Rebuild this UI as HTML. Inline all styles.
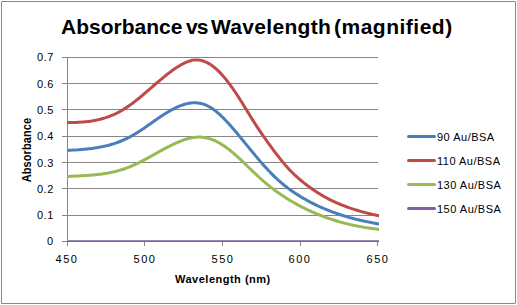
<!DOCTYPE html>
<html><head><meta charset="utf-8"><style>
html,body{margin:0;padding:0;background:#fff;width:517px;height:305px;overflow:hidden}
body{position:relative;font-family:"Liberation Sans",sans-serif;color:#000}
.frame{position:absolute;left:1px;top:1px;width:513px;height:301px;border:1px solid #868686;border-radius:1px}
.t{position:absolute;white-space:nowrap;line-height:12px}
.yl{right:462px;text-align:right}
.xl{width:40px;text-align:center}
svg{position:absolute;left:0;top:0}
</style></head><body>
<div class="frame"></div>
<svg width="517" height="305" viewBox="0 0 517 305">
<defs><clipPath id="pa"><rect x="67" y="50" width="312" height="192"/></clipPath></defs>
<rect x="62" y="57" width="316" height="1" fill="#868686"/>
<rect x="62" y="83" width="316" height="1" fill="#868686"/>
<rect x="62" y="109" width="316" height="1" fill="#868686"/>
<rect x="62" y="136" width="316" height="1" fill="#868686"/>
<rect x="62" y="162" width="316" height="1" fill="#868686"/>
<rect x="62" y="188" width="316" height="1" fill="#868686"/>
<rect x="62" y="215" width="316" height="1" fill="#868686"/>
<rect x="62" y="241" width="316" height="1" fill="#868686"/>
<rect x="67" y="57" width="1" height="189" fill="#868686"/>
<rect x="144" y="242" width="1" height="4" fill="#868686"/>
<rect x="222" y="242" width="1" height="4" fill="#868686"/>
<rect x="300" y="242" width="1" height="4" fill="#868686"/>
<rect x="377" y="242" width="1" height="4" fill="#868686"/>
<path d="M66.0,176.6 C66.2,176.6 67.0,176.5 67.5,176.5 C68.0,176.5 68.5,176.4 69.0,176.4 C69.5,176.4 70.0,176.4 70.5,176.3 C71.0,176.3 71.5,176.3 72.0,176.3 C72.5,176.2 73.0,176.2 73.5,176.2 C74.0,176.2 74.5,176.1 75.0,176.1 C75.5,176.1 76.0,176.1 76.5,176.0 C77.0,176.0 77.5,176.0 78.0,176.0 C78.5,175.9 79.0,175.9 79.5,175.9 C80.0,175.9 80.5,175.8 81.0,175.8 C81.5,175.8 82.0,175.7 82.5,175.7 C83.0,175.7 83.5,175.7 84.0,175.6 C84.5,175.6 85.0,175.6 85.5,175.5 C86.0,175.5 86.5,175.5 87.0,175.4 C87.5,175.4 88.0,175.4 88.5,175.3 C89.0,175.3 89.5,175.3 90.0,175.2 C90.5,175.2 91.0,175.1 91.5,175.1 C92.0,175.1 92.5,175.0 93.0,175.0 C93.5,174.9 94.0,174.9 94.5,174.8 C95.0,174.8 95.5,174.7 96.0,174.7 C96.5,174.6 97.0,174.6 97.5,174.5 C98.0,174.5 98.5,174.4 99.0,174.3 C99.5,174.3 100.0,174.2 100.5,174.2 C101.0,174.1 101.5,174.0 102.0,174.0 C102.5,173.9 103.0,173.8 103.5,173.7 C104.0,173.7 104.5,173.6 105.0,173.5 C105.5,173.4 106.0,173.4 106.5,173.3 C107.0,173.2 107.5,173.1 108.0,173.0 C108.5,172.9 109.0,172.8 109.5,172.7 C110.0,172.6 110.5,172.5 111.0,172.4 C111.5,172.3 112.0,172.2 112.5,172.1 C113.0,172.0 113.5,171.9 114.0,171.8 C114.5,171.7 115.0,171.5 115.5,171.4 C116.0,171.3 116.5,171.2 117.0,171.0 C117.5,170.9 118.0,170.8 118.5,170.6 C119.0,170.5 119.5,170.3 120.0,170.2 C120.5,170.1 121.0,169.9 121.5,169.7 C122.0,169.6 122.5,169.4 123.0,169.3 C123.5,169.1 124.0,168.9 124.5,168.8 C125.0,168.6 125.5,168.4 126.0,168.2 C126.5,168.1 127.0,167.9 127.5,167.7 C128.0,167.5 128.5,167.3 129.0,167.1 C129.5,166.9 130.0,166.7 130.5,166.5 C131.0,166.3 131.5,166.1 132.0,165.9 C132.5,165.6 133.0,165.4 133.5,165.2 C134.0,165.0 134.5,164.7 135.0,164.5 C135.5,164.3 136.0,164.0 136.5,163.8 C137.0,163.6 137.5,163.3 138.0,163.1 C138.5,162.8 139.0,162.6 139.5,162.3 C140.0,162.1 140.5,161.8 141.0,161.6 C141.5,161.3 142.0,161.1 142.5,160.8 C143.0,160.5 143.5,160.3 144.0,160.0 C144.5,159.7 145.0,159.5 145.5,159.2 C146.0,158.9 146.5,158.7 147.0,158.4 C147.5,158.1 148.0,157.9 148.5,157.6 C149.0,157.3 149.5,157.0 150.0,156.8 C150.5,156.5 151.0,156.2 151.5,155.9 C152.0,155.6 152.5,155.4 153.0,155.1 C153.5,154.8 154.0,154.5 154.5,154.3 C155.0,154.0 155.5,153.7 156.0,153.4 C156.5,153.1 157.0,152.9 157.5,152.6 C158.0,152.3 158.5,152.0 159.0,151.8 C159.5,151.5 160.0,151.2 160.5,150.9 C161.0,150.7 161.5,150.4 162.0,150.1 C162.5,149.8 163.0,149.6 163.5,149.3 C164.0,149.0 164.5,148.8 165.0,148.5 C165.5,148.2 166.0,148.0 166.5,147.7 C167.0,147.4 167.5,147.2 168.0,146.9 C168.5,146.7 169.0,146.4 169.5,146.2 C170.0,145.9 170.5,145.7 171.0,145.4 C171.5,145.2 172.0,144.9 172.5,144.7 C173.0,144.4 173.5,144.2 174.0,144.0 C174.5,143.7 175.0,143.5 175.5,143.3 C176.0,143.1 176.5,142.8 177.0,142.6 C177.5,142.4 178.0,142.2 178.5,142.0 C179.0,141.8 179.5,141.6 180.0,141.4 C180.5,141.2 181.0,141.0 181.5,140.8 C182.0,140.6 182.5,140.4 183.0,140.2 C183.5,140.1 184.0,139.9 184.5,139.7 C185.0,139.6 185.5,139.4 186.0,139.2 C186.5,139.1 187.0,138.9 187.5,138.8 C188.0,138.7 188.5,138.5 189.0,138.4 C189.5,138.3 190.0,138.2 190.5,138.1 C191.0,138.0 191.5,137.9 192.0,137.8 C192.5,137.7 193.0,137.6 193.5,137.5 C194.0,137.4 194.5,137.4 195.0,137.3 C195.5,137.3 196.0,137.2 196.5,137.2 C197.0,137.2 197.5,137.1 198.0,137.1 C198.5,137.1 199.0,137.1 199.5,137.1 C200.0,137.1 200.5,137.1 201.0,137.1 C201.5,137.2 202.0,137.2 202.5,137.2 C203.0,137.3 203.5,137.4 204.0,137.4 C204.5,137.5 205.0,137.6 205.5,137.7 C206.0,137.8 206.5,137.9 207.0,138.0 C207.5,138.1 208.0,138.2 208.5,138.4 C209.0,138.5 209.5,138.7 210.0,138.8 C210.5,139.0 211.0,139.2 211.5,139.3 C212.0,139.5 212.5,139.7 213.0,139.9 C213.5,140.1 214.0,140.3 214.5,140.5 C215.0,140.8 215.5,141.0 216.0,141.2 C216.5,141.5 217.0,141.7 217.5,142.0 C218.0,142.3 218.5,142.5 219.0,142.8 C219.5,143.1 220.0,143.4 220.5,143.7 C221.0,144.0 221.5,144.3 222.0,144.6 C222.5,144.9 223.0,145.2 223.5,145.6 C224.0,145.9 224.5,146.2 225.0,146.6 C225.5,146.9 226.0,147.3 226.5,147.6 C227.0,148.0 227.5,148.4 228.0,148.8 C228.5,149.1 229.0,149.5 229.5,149.9 C230.0,150.3 230.5,150.7 231.0,151.1 C231.5,151.5 232.0,151.9 232.5,152.4 C233.0,152.8 233.5,153.2 234.0,153.6 C234.5,154.1 235.0,154.5 235.5,154.9 C236.0,155.4 236.5,155.8 237.0,156.3 C237.5,156.7 238.0,157.2 238.5,157.7 C239.0,158.1 239.5,158.6 240.0,159.1 C240.5,159.5 241.0,160.0 241.5,160.5 C242.0,160.9 242.5,161.4 243.0,161.9 C243.5,162.4 244.0,162.8 244.5,163.3 C245.0,163.8 245.5,164.3 246.0,164.8 C246.5,165.3 247.0,165.7 247.5,166.2 C248.0,166.7 248.5,167.2 249.0,167.7 C249.5,168.2 250.0,168.7 250.5,169.2 C251.0,169.6 251.5,170.1 252.0,170.6 C252.5,171.1 253.0,171.6 253.5,172.0 C254.0,172.5 254.5,173.0 255.0,173.5 C255.5,174.0 256.0,174.4 256.5,174.9 C257.0,175.4 257.5,175.8 258.0,176.3 C258.5,176.8 259.0,177.2 259.5,177.7 C260.0,178.1 260.5,178.6 261.0,179.0 C261.5,179.5 262.0,179.9 262.5,180.4 C263.0,180.8 263.5,181.2 264.0,181.7 C264.5,182.1 265.0,182.5 265.5,182.9 C266.0,183.3 266.5,183.8 267.0,184.2 C267.5,184.6 268.0,185.0 268.5,185.4 C269.0,185.8 269.5,186.2 270.0,186.6 C270.5,187.0 271.0,187.4 271.5,187.8 C272.0,188.1 272.5,188.5 273.0,188.9 C273.5,189.3 274.0,189.7 274.5,190.0 C275.0,190.4 275.5,190.8 276.0,191.1 C276.5,191.5 277.0,191.8 277.5,192.2 C278.0,192.6 278.5,192.9 279.0,193.3 C279.5,193.6 280.0,193.9 280.5,194.3 C281.0,194.6 281.5,195.0 282.0,195.3 C282.5,195.6 283.0,196.0 283.5,196.3 C284.0,196.6 284.5,196.9 285.0,197.3 C285.5,197.6 286.0,197.9 286.5,198.2 C287.0,198.5 287.5,198.8 288.0,199.1 C288.5,199.5 289.0,199.8 289.5,200.1 C290.0,200.4 290.5,200.7 291.0,201.0 C291.5,201.3 292.0,201.6 292.5,201.8 C293.0,202.1 293.5,202.4 294.0,202.7 C294.5,203.0 295.0,203.3 295.5,203.6 C296.0,203.8 296.5,204.1 297.0,204.4 C297.5,204.7 298.0,204.9 298.5,205.2 C299.0,205.5 299.5,205.7 300.0,206.0 C300.5,206.3 301.0,206.5 301.5,206.8 C302.0,207.0 302.5,207.3 303.0,207.6 C303.5,207.8 304.0,208.1 304.5,208.3 C305.0,208.6 305.5,208.8 306.0,209.0 C306.5,209.3 307.0,209.5 307.5,209.8 C308.0,210.0 308.5,210.2 309.0,210.5 C309.5,210.7 310.0,210.9 310.5,211.2 C311.0,211.4 311.5,211.6 312.0,211.8 C312.5,212.1 313.0,212.3 313.5,212.5 C314.0,212.7 314.5,212.9 315.0,213.1 C315.5,213.4 316.0,213.6 316.5,213.8 C317.0,214.0 317.5,214.2 318.0,214.4 C318.5,214.6 319.0,214.8 319.5,215.0 C320.0,215.2 320.5,215.4 321.0,215.6 C321.5,215.8 322.0,216.0 322.5,216.2 C323.0,216.4 323.5,216.5 324.0,216.7 C324.5,216.9 325.0,217.1 325.5,217.3 C326.0,217.5 326.5,217.6 327.0,217.8 C327.5,218.0 328.0,218.2 328.5,218.3 C329.0,218.5 329.5,218.7 330.0,218.8 C330.5,219.0 331.0,219.2 331.5,219.3 C332.0,219.5 332.5,219.7 333.0,219.8 C333.5,220.0 334.0,220.1 334.5,220.3 C335.0,220.4 335.5,220.6 336.0,220.8 C336.5,220.9 337.0,221.1 337.5,221.2 C338.0,221.3 338.5,221.5 339.0,221.6 C339.5,221.8 340.0,221.9 340.5,222.1 C341.0,222.2 341.5,222.3 342.0,222.5 C342.5,222.6 343.0,222.7 343.5,222.9 C344.0,223.0 344.5,223.1 345.0,223.3 C345.5,223.4 346.0,223.5 346.5,223.6 C347.0,223.8 347.5,223.9 348.0,224.0 C348.5,224.1 349.0,224.2 349.5,224.4 C350.0,224.5 350.5,224.6 351.0,224.7 C351.5,224.8 352.0,224.9 352.5,225.0 C353.0,225.2 353.5,225.3 354.0,225.4 C354.5,225.5 355.0,225.6 355.5,225.7 C356.0,225.8 356.5,225.9 357.0,226.0 C357.5,226.1 358.0,226.2 358.5,226.3 C359.0,226.4 359.5,226.5 360.0,226.6 C360.5,226.7 361.0,226.7 361.5,226.8 C362.0,226.9 362.5,227.0 363.0,227.1 C363.5,227.2 364.0,227.3 364.5,227.4 C365.0,227.4 365.5,227.5 366.0,227.6 C366.5,227.7 367.0,227.8 367.5,227.8 C368.0,227.9 368.5,228.0 369.0,228.1 C369.5,228.1 370.0,228.2 370.5,228.3 C371.0,228.4 371.5,228.4 372.0,228.5 C372.5,228.6 373.0,228.6 373.5,228.7 C374.0,228.8 374.5,228.8 375.0,228.9 C375.5,229.0 375.8,229.0 376.5,229.1 C377.2,229.2 379.0,229.4 379.5,229.4" fill="none" stroke="#98B954" stroke-width="3.0" stroke-linecap="butt" stroke-linejoin="round" clip-path="url(#pa)"/>
<path d="M66.0,150.4 C66.2,150.4 67.0,150.4 67.5,150.4 C68.0,150.3 68.5,150.3 69.0,150.3 C69.5,150.3 70.0,150.2 70.5,150.2 C71.0,150.2 71.5,150.2 72.0,150.1 C72.5,150.1 73.0,150.1 73.5,150.1 C74.0,150.0 74.5,150.0 75.0,150.0 C75.5,149.9 76.0,149.9 76.5,149.9 C77.0,149.8 77.5,149.8 78.0,149.8 C78.5,149.7 79.0,149.7 79.5,149.7 C80.0,149.6 80.5,149.6 81.0,149.6 C81.5,149.5 82.0,149.5 82.5,149.4 C83.0,149.4 83.5,149.3 84.0,149.3 C84.5,149.3 85.0,149.2 85.5,149.2 C86.0,149.1 86.5,149.1 87.0,149.0 C87.5,149.0 88.0,148.9 88.5,148.8 C89.0,148.8 89.5,148.7 90.0,148.7 C90.5,148.6 91.0,148.5 91.5,148.5 C92.0,148.4 92.5,148.4 93.0,148.3 C93.5,148.2 94.0,148.1 94.5,148.1 C95.0,148.0 95.5,147.9 96.0,147.8 C96.5,147.8 97.0,147.7 97.5,147.6 C98.0,147.5 98.5,147.4 99.0,147.3 C99.5,147.2 100.0,147.1 100.5,147.0 C101.0,147.0 101.5,146.9 102.0,146.7 C102.5,146.6 103.0,146.5 103.5,146.4 C104.0,146.3 104.5,146.2 105.0,146.1 C105.5,146.0 106.0,145.9 106.5,145.7 C107.0,145.6 107.5,145.5 108.0,145.4 C108.5,145.2 109.0,145.1 109.5,145.0 C110.0,144.8 110.5,144.7 111.0,144.5 C111.5,144.4 112.0,144.2 112.5,144.1 C113.0,143.9 113.5,143.8 114.0,143.6 C114.5,143.4 115.0,143.3 115.5,143.1 C116.0,142.9 116.5,142.8 117.0,142.6 C117.5,142.4 118.0,142.2 118.5,142.0 C119.0,141.8 119.5,141.7 120.0,141.5 C120.5,141.3 121.0,141.1 121.5,140.8 C122.0,140.6 122.5,140.4 123.0,140.2 C123.5,140.0 124.0,139.8 124.5,139.5 C125.0,139.3 125.5,139.1 126.0,138.8 C126.5,138.6 127.0,138.4 127.5,138.1 C128.0,137.9 128.5,137.6 129.0,137.4 C129.5,137.1 130.0,136.8 130.5,136.6 C131.0,136.3 131.5,136.0 132.0,135.7 C132.5,135.5 133.0,135.2 133.5,134.9 C134.0,134.6 134.5,134.3 135.0,134.0 C135.5,133.7 136.0,133.4 136.5,133.1 C137.0,132.8 137.5,132.5 138.0,132.1 C138.5,131.8 139.0,131.5 139.5,131.2 C140.0,130.8 140.5,130.5 141.0,130.2 C141.5,129.9 142.0,129.5 142.5,129.2 C143.0,128.9 143.5,128.5 144.0,128.2 C144.5,127.8 145.0,127.5 145.5,127.1 C146.0,126.8 146.5,126.5 147.0,126.1 C147.5,125.8 148.0,125.4 148.5,125.1 C149.0,124.7 149.5,124.4 150.0,124.0 C150.5,123.7 151.0,123.3 151.5,123.0 C152.0,122.6 152.5,122.3 153.0,121.9 C153.5,121.6 154.0,121.2 154.5,120.9 C155.0,120.5 155.5,120.2 156.0,119.8 C156.5,119.5 157.0,119.1 157.5,118.8 C158.0,118.5 158.5,118.1 159.0,117.8 C159.5,117.4 160.0,117.1 160.5,116.8 C161.0,116.4 161.5,116.1 162.0,115.8 C162.5,115.4 163.0,115.1 163.5,114.8 C164.0,114.5 164.5,114.1 165.0,113.8 C165.5,113.5 166.0,113.2 166.5,112.9 C167.0,112.6 167.5,112.3 168.0,112.0 C168.5,111.7 169.0,111.4 169.5,111.1 C170.0,110.8 170.5,110.5 171.0,110.2 C171.5,110.0 172.0,109.7 172.5,109.4 C173.0,109.2 173.5,108.9 174.0,108.6 C174.5,108.4 175.0,108.1 175.5,107.9 C176.0,107.6 176.5,107.4 177.0,107.2 C177.5,106.9 178.0,106.7 178.5,106.5 C179.0,106.3 179.5,106.1 180.0,105.9 C180.5,105.7 181.0,105.5 181.5,105.3 C182.0,105.1 182.5,105.0 183.0,104.8 C183.5,104.6 184.0,104.5 184.5,104.3 C185.0,104.2 185.5,104.0 186.0,103.9 C186.5,103.8 187.0,103.7 187.5,103.6 C188.0,103.5 188.5,103.4 189.0,103.3 C189.5,103.2 190.0,103.1 190.5,103.0 C191.0,103.0 191.5,102.9 192.0,102.9 C192.5,102.8 193.0,102.8 193.5,102.8 C194.0,102.8 194.5,102.8 195.0,102.8 C195.5,102.8 196.0,102.8 196.5,102.8 C197.0,102.9 197.5,102.9 198.0,103.0 C198.5,103.0 199.0,103.1 199.5,103.2 C200.0,103.3 200.5,103.4 201.0,103.5 C201.5,103.6 202.0,103.7 202.5,103.9 C203.0,104.0 203.5,104.2 204.0,104.3 C204.5,104.5 205.0,104.7 205.5,104.9 C206.0,105.1 206.5,105.3 207.0,105.6 C207.5,105.8 208.0,106.0 208.5,106.3 C209.0,106.6 209.5,106.9 210.0,107.2 C210.5,107.4 211.0,107.8 211.5,108.1 C212.0,108.4 212.5,108.7 213.0,109.1 C213.5,109.4 214.0,109.8 214.5,110.2 C215.0,110.6 215.5,110.9 216.0,111.3 C216.5,111.7 217.0,112.2 217.5,112.6 C218.0,113.0 218.5,113.4 219.0,113.9 C219.5,114.3 220.0,114.8 220.5,115.2 C221.0,115.7 221.5,116.2 222.0,116.7 C222.5,117.2 223.0,117.6 223.5,118.1 C224.0,118.6 224.5,119.2 225.0,119.7 C225.5,120.2 226.0,120.7 226.5,121.3 C227.0,121.8 227.5,122.3 228.0,122.9 C228.5,123.4 229.0,124.0 229.5,124.5 C230.0,125.1 230.5,125.6 231.0,126.2 C231.5,126.8 232.0,127.4 232.5,127.9 C233.0,128.5 233.5,129.1 234.0,129.7 C234.5,130.3 235.0,130.9 235.5,131.5 C236.0,132.1 236.5,132.6 237.0,133.2 C237.5,133.8 238.0,134.4 238.5,135.1 C239.0,135.7 239.5,136.3 240.0,136.9 C240.5,137.5 241.0,138.1 241.5,138.7 C242.0,139.3 242.5,139.9 243.0,140.5 C243.5,141.1 244.0,141.7 244.5,142.4 C245.0,143.0 245.5,143.6 246.0,144.2 C246.5,144.8 247.0,145.4 247.5,146.0 C248.0,146.6 248.5,147.2 249.0,147.8 C249.5,148.5 250.0,149.1 250.5,149.7 C251.0,150.3 251.5,150.9 252.0,151.5 C252.5,152.1 253.0,152.7 253.5,153.3 C254.0,153.9 254.5,154.5 255.0,155.1 C255.5,155.7 256.0,156.3 256.5,156.9 C257.0,157.5 257.5,158.1 258.0,158.7 C258.5,159.2 259.0,159.8 259.5,160.4 C260.0,161.0 260.5,161.6 261.0,162.2 C261.5,162.7 262.0,163.3 262.5,163.9 C263.0,164.4 263.5,165.0 264.0,165.6 C264.5,166.1 265.0,166.7 265.5,167.2 C266.0,167.8 266.5,168.3 267.0,168.9 C267.5,169.4 268.0,170.0 268.5,170.5 C269.0,171.0 269.5,171.5 270.0,172.1 C270.5,172.6 271.0,173.1 271.5,173.6 C272.0,174.1 272.5,174.6 273.0,175.1 C273.5,175.6 274.0,176.1 274.5,176.6 C275.0,177.1 275.5,177.6 276.0,178.0 C276.5,178.5 277.0,179.0 277.5,179.4 C278.0,179.9 278.5,180.3 279.0,180.8 C279.5,181.2 280.0,181.7 280.5,182.1 C281.0,182.5 281.5,183.0 282.0,183.4 C282.5,183.8 283.0,184.2 283.5,184.6 C284.0,185.1 284.5,185.5 285.0,185.9 C285.5,186.3 286.0,186.6 286.5,187.0 C287.0,187.4 287.5,187.8 288.0,188.2 C288.5,188.5 289.0,188.9 289.5,189.3 C290.0,189.7 290.5,190.0 291.0,190.4 C291.5,190.7 292.0,191.1 292.5,191.4 C293.0,191.8 293.5,192.1 294.0,192.4 C294.5,192.8 295.0,193.1 295.5,193.4 C296.0,193.8 296.5,194.1 297.0,194.4 C297.5,194.7 298.0,195.0 298.5,195.4 C299.0,195.7 299.5,196.0 300.0,196.3 C300.5,196.6 301.0,196.9 301.5,197.2 C302.0,197.5 302.5,197.8 303.0,198.1 C303.5,198.4 304.0,198.6 304.5,198.9 C305.0,199.2 305.5,199.5 306.0,199.8 C306.5,200.1 307.0,200.3 307.5,200.6 C308.0,200.9 308.5,201.1 309.0,201.4 C309.5,201.7 310.0,201.9 310.5,202.2 C311.0,202.5 311.5,202.7 312.0,203.0 C312.5,203.2 313.0,203.5 313.5,203.7 C314.0,204.0 314.5,204.2 315.0,204.5 C315.5,204.7 316.0,205.0 316.5,205.2 C317.0,205.4 317.5,205.7 318.0,205.9 C318.5,206.1 319.0,206.4 319.5,206.6 C320.0,206.8 320.5,207.0 321.0,207.3 C321.5,207.5 322.0,207.7 322.5,207.9 C323.0,208.1 323.5,208.4 324.0,208.6 C324.5,208.8 325.0,209.0 325.5,209.2 C326.0,209.4 326.5,209.6 327.0,209.8 C327.5,210.0 328.0,210.2 328.5,210.4 C329.0,210.6 329.5,210.8 330.0,211.0 C330.5,211.2 331.0,211.4 331.5,211.6 C332.0,211.8 332.5,212.0 333.0,212.2 C333.5,212.3 334.0,212.5 334.5,212.7 C335.0,212.9 335.5,213.1 336.0,213.2 C336.5,213.4 337.0,213.6 337.5,213.8 C338.0,213.9 338.5,214.1 339.0,214.3 C339.5,214.4 340.0,214.6 340.5,214.8 C341.0,214.9 341.5,215.1 342.0,215.2 C342.5,215.4 343.0,215.6 343.5,215.7 C344.0,215.9 344.5,216.0 345.0,216.2 C345.5,216.3 346.0,216.5 346.5,216.6 C347.0,216.8 347.5,216.9 348.0,217.1 C348.5,217.2 349.0,217.3 349.5,217.5 C350.0,217.6 350.5,217.8 351.0,217.9 C351.5,218.0 352.0,218.2 352.5,218.3 C353.0,218.4 353.5,218.6 354.0,218.7 C354.5,218.8 355.0,219.0 355.5,219.1 C356.0,219.2 356.5,219.3 357.0,219.5 C357.5,219.6 358.0,219.7 358.5,219.8 C359.0,219.9 359.5,220.1 360.0,220.2 C360.5,220.3 361.0,220.4 361.5,220.5 C362.0,220.6 362.5,220.8 363.0,220.9 C363.5,221.0 364.0,221.1 364.5,221.2 C365.0,221.3 365.5,221.4 366.0,221.5 C366.5,221.6 367.0,221.7 367.5,221.8 C368.0,221.9 368.5,222.0 369.0,222.1 C369.5,222.2 370.0,222.3 370.5,222.4 C371.0,222.5 371.5,222.6 372.0,222.7 C372.5,222.8 373.0,222.9 373.5,223.0 C374.0,223.1 374.5,223.2 375.0,223.3 C375.5,223.4 375.8,223.4 376.5,223.5 C377.2,223.7 379.0,224.0 379.5,224.1" fill="none" stroke="#4A7EBB" stroke-width="3.0" stroke-linecap="butt" stroke-linejoin="round" clip-path="url(#pa)"/>
<path d="M66.0,122.5 C66.2,122.5 67.0,122.5 67.5,122.5 C68.0,122.5 68.5,122.5 69.0,122.5 C69.5,122.5 70.0,122.5 70.5,122.5 C71.0,122.5 71.5,122.5 72.0,122.5 C72.5,122.5 73.0,122.5 73.5,122.5 C74.0,122.5 74.5,122.4 75.0,122.4 C75.5,122.4 76.0,122.4 76.5,122.4 C77.0,122.4 77.5,122.3 78.0,122.3 C78.5,122.3 79.0,122.3 79.5,122.2 C80.0,122.2 80.5,122.2 81.0,122.1 C81.5,122.1 82.0,122.1 82.5,122.0 C83.0,122.0 83.5,122.0 84.0,121.9 C84.5,121.9 85.0,121.8 85.5,121.8 C86.0,121.7 86.5,121.7 87.0,121.6 C87.5,121.5 88.0,121.5 88.5,121.4 C89.0,121.4 89.5,121.3 90.0,121.2 C90.5,121.2 91.0,121.1 91.5,121.0 C92.0,120.9 92.5,120.8 93.0,120.8 C93.5,120.7 94.0,120.6 94.5,120.5 C95.0,120.4 95.5,120.3 96.0,120.2 C96.5,120.1 97.0,120.0 97.5,119.9 C98.0,119.8 98.5,119.6 99.0,119.5 C99.5,119.4 100.0,119.3 100.5,119.2 C101.0,119.0 101.5,118.9 102.0,118.8 C102.5,118.6 103.0,118.5 103.5,118.3 C104.0,118.2 104.5,118.0 105.0,117.9 C105.5,117.7 106.0,117.6 106.5,117.4 C107.0,117.2 107.5,117.0 108.0,116.9 C108.5,116.7 109.0,116.5 109.5,116.3 C110.0,116.1 110.5,115.9 111.0,115.7 C111.5,115.5 112.0,115.3 112.5,115.1 C113.0,114.9 113.5,114.7 114.0,114.5 C114.5,114.2 115.0,114.0 115.5,113.8 C116.0,113.5 116.5,113.3 117.0,113.0 C117.5,112.8 118.0,112.5 118.5,112.3 C119.0,112.0 119.5,111.8 120.0,111.5 C120.5,111.2 121.0,110.9 121.5,110.6 C122.0,110.3 122.5,110.1 123.0,109.8 C123.5,109.5 124.0,109.1 124.5,108.8 C125.0,108.5 125.5,108.2 126.0,107.9 C126.5,107.5 127.0,107.2 127.5,106.9 C128.0,106.5 128.5,106.2 129.0,105.8 C129.5,105.5 130.0,105.1 130.5,104.8 C131.0,104.4 131.5,104.0 132.0,103.7 C132.5,103.3 133.0,102.9 133.5,102.5 C134.0,102.1 134.5,101.8 135.0,101.4 C135.5,101.0 136.0,100.6 136.5,100.2 C137.0,99.8 137.5,99.4 138.0,99.0 C138.5,98.6 139.0,98.2 139.5,97.8 C140.0,97.3 140.5,96.9 141.0,96.5 C141.5,96.1 142.0,95.7 142.5,95.3 C143.0,94.8 143.5,94.4 144.0,94.0 C144.5,93.6 145.0,93.1 145.5,92.7 C146.0,92.3 146.5,91.8 147.0,91.4 C147.5,91.0 148.0,90.6 148.5,90.1 C149.0,89.7 149.5,89.3 150.0,88.8 C150.5,88.4 151.0,88.0 151.5,87.5 C152.0,87.1 152.5,86.7 153.0,86.2 C153.5,85.8 154.0,85.4 154.5,84.9 C155.0,84.5 155.5,84.1 156.0,83.6 C156.5,83.2 157.0,82.8 157.5,82.3 C158.0,81.9 158.5,81.5 159.0,81.1 C159.5,80.6 160.0,80.2 160.5,79.8 C161.0,79.4 161.5,79.0 162.0,78.6 C162.5,78.1 163.0,77.7 163.5,77.3 C164.0,76.9 164.5,76.5 165.0,76.1 C165.5,75.7 166.0,75.3 166.5,74.9 C167.0,74.5 167.5,74.1 168.0,73.7 C168.5,73.4 169.0,73.0 169.5,72.6 C170.0,72.2 170.5,71.8 171.0,71.5 C171.5,71.1 172.0,70.7 172.5,70.4 C173.0,70.0 173.5,69.7 174.0,69.3 C174.5,69.0 175.0,68.6 175.5,68.3 C176.0,68.0 176.5,67.6 177.0,67.3 C177.5,67.0 178.0,66.7 178.5,66.4 C179.0,66.1 179.5,65.8 180.0,65.5 C180.5,65.2 181.0,64.9 181.5,64.6 C182.0,64.3 182.5,64.0 183.0,63.8 C183.5,63.5 184.0,63.3 184.5,63.0 C185.0,62.8 185.5,62.5 186.0,62.3 C186.5,62.1 187.0,61.9 187.5,61.7 C188.0,61.5 188.5,61.3 189.0,61.2 C189.5,61.0 190.0,60.8 190.5,60.7 C191.0,60.6 191.5,60.4 192.0,60.3 C192.5,60.2 193.0,60.1 193.5,60.1 C194.0,60.0 194.5,59.9 195.0,59.9 C195.5,59.9 196.0,59.9 196.5,59.9 C197.0,59.9 197.5,59.9 198.0,59.9 C198.5,60.0 199.0,60.0 199.5,60.1 C200.0,60.2 200.5,60.3 201.0,60.4 C201.5,60.5 202.0,60.6 202.5,60.8 C203.0,60.9 203.5,61.1 204.0,61.3 C204.5,61.5 205.0,61.7 205.5,61.9 C206.0,62.1 206.5,62.3 207.0,62.6 C207.5,62.8 208.0,63.1 208.5,63.4 C209.0,63.7 209.5,64.0 210.0,64.3 C210.5,64.6 211.0,64.9 211.5,65.3 C212.0,65.6 212.5,66.0 213.0,66.3 C213.5,66.7 214.0,67.1 214.5,67.5 C215.0,67.9 215.5,68.3 216.0,68.8 C216.5,69.2 217.0,69.6 217.5,70.1 C218.0,70.6 218.5,71.1 219.0,71.6 C219.5,72.1 220.0,72.6 220.5,73.1 C221.0,73.6 221.5,74.2 222.0,74.7 C222.5,75.3 223.0,75.9 223.5,76.5 C224.0,77.0 224.5,77.6 225.0,78.3 C225.5,78.9 226.0,79.5 226.5,80.1 C227.0,80.8 227.5,81.4 228.0,82.1 C228.5,82.7 229.0,83.4 229.5,84.1 C230.0,84.7 230.5,85.4 231.0,86.1 C231.5,86.8 232.0,87.5 232.5,88.2 C233.0,88.9 233.5,89.6 234.0,90.3 C234.5,91.1 235.0,91.8 235.5,92.5 C236.0,93.3 236.5,94.0 237.0,94.8 C237.5,95.6 238.0,96.3 238.5,97.1 C239.0,97.9 239.5,98.7 240.0,99.5 C240.5,100.2 241.0,101.0 241.5,101.8 C242.0,102.6 242.5,103.5 243.0,104.3 C243.5,105.1 244.0,105.9 244.5,106.7 C245.0,107.5 245.5,108.3 246.0,109.1 C246.5,110.0 247.0,110.8 247.5,111.6 C248.0,112.4 248.5,113.2 249.0,114.0 C249.5,114.9 250.0,115.7 250.5,116.5 C251.0,117.3 251.5,118.1 252.0,118.9 C252.5,119.7 253.0,120.5 253.5,121.2 C254.0,122.0 254.5,122.8 255.0,123.6 C255.5,124.4 256.0,125.1 256.5,125.9 C257.0,126.7 257.5,127.4 258.0,128.2 C258.5,128.9 259.0,129.7 259.5,130.4 C260.0,131.2 260.5,131.9 261.0,132.6 C261.5,133.4 262.0,134.1 262.5,134.8 C263.0,135.6 263.5,136.3 264.0,137.0 C264.5,137.7 265.0,138.4 265.5,139.1 C266.0,139.8 266.5,140.5 267.0,141.2 C267.5,142.0 268.0,142.6 268.5,143.3 C269.0,144.0 269.5,144.7 270.0,145.4 C270.5,146.1 271.0,146.8 271.5,147.5 C272.0,148.1 272.5,148.8 273.0,149.5 C273.5,150.2 274.0,150.8 274.5,151.5 C275.0,152.2 275.5,152.8 276.0,153.5 C276.5,154.1 277.0,154.8 277.5,155.4 C278.0,156.1 278.5,156.7 279.0,157.4 C279.5,158.0 280.0,158.6 280.5,159.3 C281.0,159.9 281.5,160.5 282.0,161.1 C282.5,161.7 283.0,162.3 283.5,162.9 C284.0,163.5 284.5,164.1 285.0,164.7 C285.5,165.3 286.0,165.9 286.5,166.4 C287.0,167.0 287.5,167.5 288.0,168.1 C288.5,168.6 289.0,169.2 289.5,169.7 C290.0,170.3 290.5,170.8 291.0,171.3 C291.5,171.8 292.0,172.3 292.5,172.8 C293.0,173.3 293.5,173.8 294.0,174.3 C294.5,174.7 295.0,175.2 295.5,175.7 C296.0,176.1 296.5,176.6 297.0,177.0 C297.5,177.5 298.0,177.9 298.5,178.4 C299.0,178.8 299.5,179.2 300.0,179.6 C300.5,180.1 301.0,180.5 301.5,180.9 C302.0,181.3 302.5,181.7 303.0,182.1 C303.5,182.5 304.0,182.9 304.5,183.3 C305.0,183.7 305.5,184.1 306.0,184.4 C306.5,184.8 307.0,185.2 307.5,185.6 C308.0,186.0 308.5,186.3 309.0,186.7 C309.5,187.1 310.0,187.5 310.5,187.8 C311.0,188.2 311.5,188.5 312.0,188.9 C312.5,189.2 313.0,189.6 313.5,189.9 C314.0,190.3 314.5,190.6 315.0,190.9 C315.5,191.3 316.0,191.6 316.5,191.9 C317.0,192.3 317.5,192.6 318.0,192.9 C318.5,193.2 319.0,193.5 319.5,193.8 C320.0,194.1 320.5,194.4 321.0,194.7 C321.5,195.0 322.0,195.3 322.5,195.6 C323.0,195.9 323.5,196.2 324.0,196.5 C324.5,196.8 325.0,197.0 325.5,197.3 C326.0,197.6 326.5,197.9 327.0,198.1 C327.5,198.4 328.0,198.7 328.5,198.9 C329.0,199.2 329.5,199.4 330.0,199.7 C330.5,199.9 331.0,200.2 331.5,200.4 C332.0,200.7 332.5,200.9 333.0,201.2 C333.5,201.4 334.0,201.6 334.5,201.9 C335.0,202.1 335.5,202.3 336.0,202.5 C336.5,202.8 337.0,203.0 337.5,203.2 C338.0,203.4 338.5,203.6 339.0,203.8 C339.5,204.1 340.0,204.3 340.5,204.5 C341.0,204.7 341.5,204.9 342.0,205.1 C342.5,205.3 343.0,205.5 343.5,205.7 C344.0,205.9 344.5,206.1 345.0,206.2 C345.5,206.4 346.0,206.6 346.5,206.8 C347.0,207.0 347.5,207.2 348.0,207.3 C348.5,207.5 349.0,207.7 349.5,207.9 C350.0,208.0 350.5,208.2 351.0,208.4 C351.5,208.5 352.0,208.7 352.5,208.9 C353.0,209.0 353.5,209.2 354.0,209.3 C354.5,209.5 355.0,209.7 355.5,209.8 C356.0,210.0 356.5,210.1 357.0,210.3 C357.5,210.4 358.0,210.6 358.5,210.7 C359.0,210.9 359.5,211.0 360.0,211.1 C360.5,211.3 361.0,211.4 361.5,211.6 C362.0,211.7 362.5,211.8 363.0,212.0 C363.5,212.1 364.0,212.2 364.5,212.4 C365.0,212.5 365.5,212.6 366.0,212.8 C366.5,212.9 367.0,213.0 367.5,213.1 C368.0,213.3 368.5,213.4 369.0,213.5 C369.5,213.6 370.0,213.7 370.5,213.9 C371.0,214.0 371.5,214.1 372.0,214.2 C372.5,214.3 373.0,214.5 373.5,214.6 C374.0,214.7 374.5,214.8 375.0,214.9 C375.5,215.0 375.8,215.1 376.5,215.2 C377.2,215.4 379.0,215.8 379.5,215.9" fill="none" stroke="#BE4B48" stroke-width="3.0" stroke-linecap="butt" stroke-linejoin="round" clip-path="url(#pa)"/>
<rect x="67" y="240" width="312" height="1" fill="#9A84BA"/>
<rect x="67" y="241" width="312" height="1" fill="#7D60A0"/>
<path d="M408.5,136.5 L434.5,136.5" stroke="#4A7EBB" stroke-width="3" stroke-linecap="round"/>
<path d="M408.5,160.5 L434.5,160.5" stroke="#BE4B48" stroke-width="3" stroke-linecap="round"/>
<path d="M408.5,184.5 L434.5,184.5" stroke="#98B954" stroke-width="3" stroke-linecap="round"/>
<path d="M408.5,208.5 L434.5,208.5" stroke="#7D60A0" stroke-width="3" stroke-linecap="round"/>
</svg>
<div class="t" style="left:61px;top:21px;font-weight:bold;font-size:21px;">Absorbance</div>
<div class="t" style="left:186px;top:21px;font-weight:bold;font-size:21px;letter-spacing:-1px;">vs</div>
<div class="t" style="left:211px;top:21px;font-weight:bold;font-size:21px;letter-spacing:0.3px;">Wavelength</div>
<div class="t" style="left:334px;top:21px;font-weight:bold;font-size:21px;letter-spacing:0.5px;">(magnified)</div>
<div class="t" style="left:37px;top:51px;font-size:11px;letter-spacing:0.5px">0.7</div>
<div class="t" style="left:37px;top:78px;font-size:11px;letter-spacing:0.5px">0.6</div>
<div class="t" style="left:37px;top:104px;font-size:11px;letter-spacing:0.5px">0.5</div>
<div class="t" style="left:37px;top:130px;font-size:11px;letter-spacing:0.5px">0.4</div>
<div class="t" style="left:37px;top:157px;font-size:11px;letter-spacing:0.5px">0.3</div>
<div class="t" style="left:37px;top:183px;font-size:11px;letter-spacing:0.5px">0.2</div>
<div class="t" style="left:37px;top:209px;font-size:11px;letter-spacing:0.5px">0.1</div>
<div class="t" style="left:47px;top:235px;font-size:11px;letter-spacing:0.5px">0</div>
<div class="t xl" style="left:47px;top:253px;font-size:11px;letter-spacing:1.5px">450</div>
<div class="t xl" style="left:125px;top:253px;font-size:11px;letter-spacing:1.5px">500</div>
<div class="t xl" style="left:203px;top:253px;font-size:11px;letter-spacing:1.5px">550</div>
<div class="t xl" style="left:280px;top:253px;font-size:11px;letter-spacing:1.5px">600</div>
<div class="t xl" style="left:358px;top:253px;font-size:11px;letter-spacing:1.5px">650</div>
<div class="t" style="left:175px;top:273px;font-weight:bold;font-size:11px;letter-spacing:0.5px;">Wavelength (nm)</div>
<div class="t" style="left:-13px;top:144px;width:80px;height:12px;text-align:center;font-weight:bold;font-size:11px;letter-spacing:0.1px;transform:rotate(-90deg) scaleY(1.12);transform-origin:40px 6px">Absorbance</div>
<div class="t" style="left:437px;top:131px;font-size:11px;letter-spacing:0.5px;">90 Au/BSA</div>
<div class="t" style="left:437px;top:155px;font-size:11px;letter-spacing:0.5px;">110 Au/BSA</div>
<div class="t" style="left:437px;top:179px;font-size:11px;letter-spacing:0.5px;">130 Au/BSA</div>
<div class="t" style="left:437px;top:203px;font-size:11px;letter-spacing:0.5px;">150 Au/BSA</div>
</body></html>
